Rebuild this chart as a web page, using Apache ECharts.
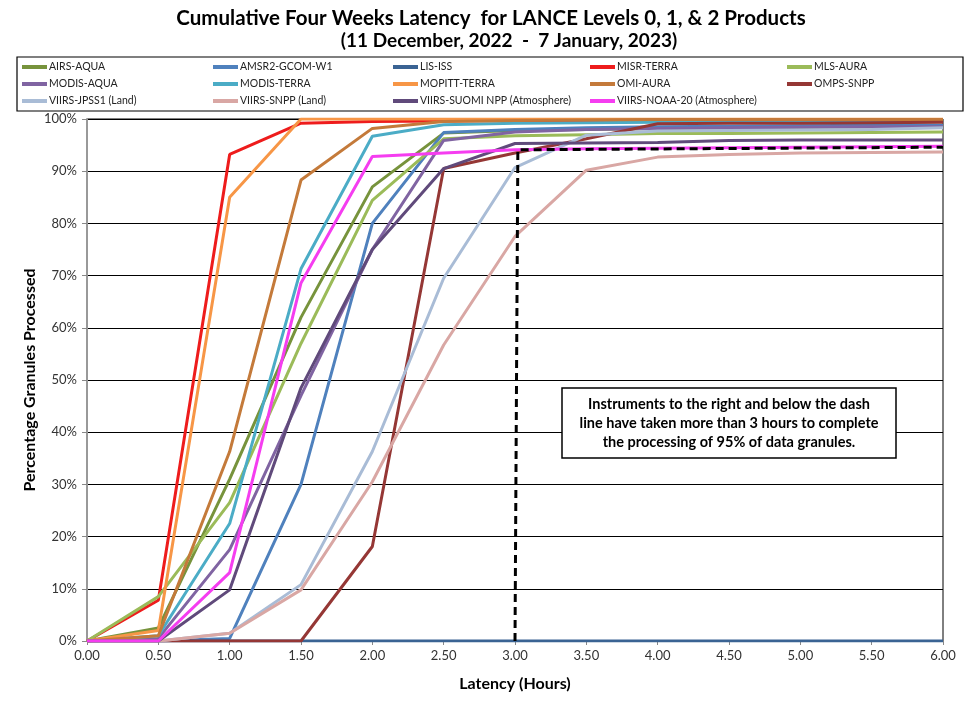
<!DOCTYPE html>
<html>
<head>
<meta charset="utf-8">
<script src="https://cdn.jsdelivr.net/npm/echarts@6/dist/echarts.min.js"></script>
<style>html,body{margin:0;padding:0;background:#fff}#c{width:972px;height:705px}</style>
</head>
<body>
<div id="c"></div>
<script>
const hours = [0, 0.5, 1, 1.5, 2, 2.5, 3, 3.5, 4, 4.5, 5, 5.5, 6];
const xTicks = ['0.00','0.50','1.00','1.50','2.00','2.50','3.00','3.50','4.00','4.50','5.00','5.50','6.00'];
const seriesNames = ['AIRS-AQUA','AMSR2-GCOM-W1','LIS-ISS','MISR-TERRA','MLS-AURA',
  'MODIS-AQUA','MODIS-TERRA','MOPITT-TERRA','OMI-AURA','OMPS-SNPP',
  'VIIRS-JPSS1 (Land)','VIIRS-SNPP (Land)','VIIRS-SUOMI NPP (Atmosphere)','VIIRS-NOAA-20 (Atmosphere)'];
const airsAqua   = [0, 2.5, 31, 62, 87, 97.3, 97.8, 98, 98.2, 98.3, 98.4, 98.5, 98.5];
const amsr2      = [0, 0, 0.5, 30, 80, 97.4, 98, 98.3, 98.5, 98.6, 98.7, 98.8, 98.8];
const lisIss     = [0, 0, 0, 0, 0, 0, 0, 0, 0, 0, 0, 0, 0];
const misrTerra  = [0, 7.8, 93.2, 99.2, 99.5, 99.6, 99.7, 99.7, 99.8, 99.8, 99.8, 99.8, 99.8];
const mlsAura    = [0, 8.5, 26.5, 57, 84.4, 96.2, 96.8, 97, 97.2, 97.2, 97.3, 97.4, 97.5];
const modisAqua  = [0, 0.5, 17.5, 47, 75, 95.9, 97.5, 98, 98.2, 98.3, 98.4, 98.5, 98.5];
const modisTerra = [0, 1, 22.5, 71.3, 96.7, 98.9, 99.2, 99.3, 99.4, 99.4, 99.5, 99.5, 99.5];
const mopitt     = [0, 2, 85, 100, 100, 100, 100, 100, 100, 100, 100, 100, 100];
const omiAura    = [0, 1, 36.3, 88.3, 98.2, 99.5, 99.7, 99.8, 99.9, 99.9, 99.9, 99.9, 99.9];
const ompsSnpp   = [0, 0, 0, 0, 18.1, 90.5, 93.5, 96.2, 99.1, 99.2, 99.2, 99.3, 99.4];
const viirsJpss1 = [0, 0, 1.5, 10.8, 36.3, 69.5, 90.7, 96.9, 97.7, 97.8, 97.9, 98, 98.3];
const viirsSnpp  = [0, 0, 1.5, 9.8, 30.5, 56.7, 77.5, 90.2, 92.7, 93.2, 93.5, 93.6, 93.7];
const viirsSuomi = [0, 0, 9.8, 48.5, 75, 90.5, 95.3, 95.4, 95.5, 95.9, 96, 96, 96];
const viirsNoaa  = [0, 0, 13.1, 68.6, 92.8, 93.5, 94.1, 94.3, 94.4, 94.5, 94.6, 94.7, 94.8];
const allValues = [airsAqua, amsr2, lisIss, misrTerra, mlsAura, modisAqua, modisTerra, mopitt,
  omiAura, ompsSnpp, viirsJpss1, viirsSnpp, viirsSuomi, viirsNoaa];
const dashX = [3.0, 3.02, 6.0];
const dashY = [0, 94.1, 94.6];
const yTicks = [0,10,20,30,40,50,60,70,80,90,100];

const colors = ['#77933C','#4F81BD','#3A6393','#EE1C1C','#9BBB59',
  '#8064A2','#4BACC6','#F79646','#C47A3A','#953735',
  '#A9BCD6','#D9A7A4','#604A7B','#F53DF0'];

const font = 'Lato, "Open Sans", sans-serif';
const chart = echarts.init(document.getElementById('c'));

const series = seriesNames.map((n, i) => ({
  name: n, type: 'line', showSymbol: false, symbol: 'none',
  data: hours.map((h, k) => [h, allValues[i][k]]),
  lineStyle: { width: 3, color: colors[i] }, itemStyle: { color: colors[i] },
  z: 2 + i, animation: false
}));
series.push({
  name: 'dash', type: 'line', symbol: 'none',
  data: dashX.map((x, k) => [x, dashY[k]]),
  lineStyle: { width: 3, color: '#000', type: [8, 5] }, z: 30, animation: false
});

const colLeft = [22, 213, 393, 590, 787];
const rowTop = [67, 84, 101];
const legends = seriesNames.map((n, i) => ({
  data: [n], left: colLeft[i % 5], top: rowTop[Math.floor(i / 5)] - 7,
  icon: 'rect', itemWidth: 25, itemHeight: 4, itemGap: 0, padding: 0,
  selectedMode: false,
  textStyle: { fontFamily: font, fontSize: 10.5, color: '#222', lineHeight: 14, padding: [0, 0, 0, -3] }
}));

chart.setOption({
  animation: false,
  backgroundColor: '#fff',
  legend: legends,
  grid: { left: 87, right: 29, top: 119, bottom: 64, show: true, borderColor: '#000', borderWidth: 1 },
  xAxis: {
    type: 'value', min: 0, max: 6, interval: 0.5,
    axisLine: { show: true, lineStyle: { color: '#888', width: 1.5 } },
    axisTick: { show: true, length: 4, lineStyle: { color: '#888' } },
    splitLine: { show: false },
    axisLabel: { fontFamily: font, fontSize: 13, color: '#333', margin: 8,
      formatter: v => xTicks[Math.round(v / 0.5)] }
  },
  yAxis: {
    type: 'value', min: 0, max: 100, interval: 10,
    axisLine: { show: true, lineStyle: { color: '#999', width: 2 } },
    axisTick: { show: true, length: 5, lineStyle: { color: '#888' } },
    splitLine: { show: true, lineStyle: { color: '#000', width: 1 } },
    axisLabel: { fontFamily: font, fontSize: 13, color: '#333', margin: 10,
      formatter: v => yTicks[Math.round(v / 10)] + '%' }
  },
  series: series,
  graphic: [
    { type: 'text', x: 491, y: 18, style: { text: 'Cumulative Four Weeks Latency  for LANCE Levels 0, 1, & 2 Products',
      font: 'bold 20.5px ' + font, fill: '#000', align: 'center', verticalAlign: 'middle' } },
    { type: 'text', x: 509, y: 41, style: { text: '(11 December, 2022  -  7 January, 2023)',
      font: 'bold 19px ' + font, fill: '#000', align: 'center', verticalAlign: 'middle' } },
    { type: 'rect', shape: { x: 17, y: 57, width: 946, height: 54 }, style: { fill: 'none', stroke: '#000', lineWidth: 1.2 }, z: 1 },
    { type: 'text', x: 30, y: 380, rotation: Math.PI / 2,
      style: { text: 'Percentage Granules Processed', font: 'bold 16px ' + font, fill: '#000', align: 'center', verticalAlign: 'middle' } },
    { type: 'text', x: 515, y: 684,
      style: { text: 'Latency (Hours)', font: 'bold 16px ' + font, fill: '#000', align: 'center', verticalAlign: 'middle' } },
    { type: 'rect', shape: { x: 562, y: 388, width: 334, height: 70 }, style: { fill: '#fff', stroke: '#000', lineWidth: 1.5 }, z: 40 },
    { type: 'text', x: 729, y: 423, z: 41,
      style: { text: 'Instruments to the right and below the dash\nline have taken more than 3 hours to complete\nthe processing of 95% of data granules.',
        font: 'bold 14.5px ' + font, lineHeight: 19, fill: '#000', align: 'center', verticalAlign: 'middle' } }
  ]
});
</script>
</body>
</html>
